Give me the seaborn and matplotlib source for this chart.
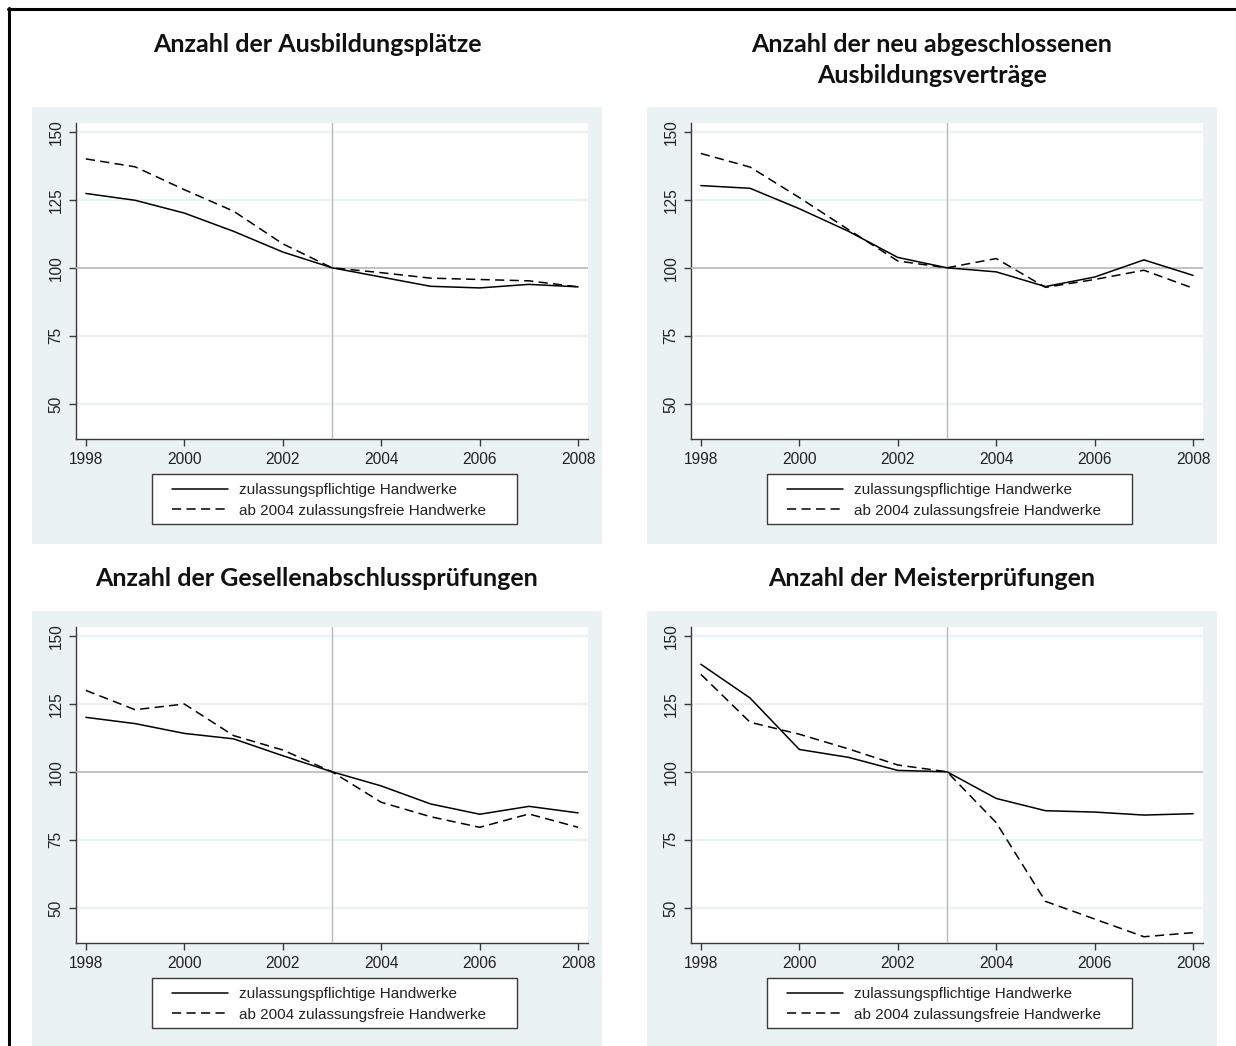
import matplotlib
matplotlib.use('Agg')
import matplotlib.pyplot as plt
import seaborn as sns
from matplotlib.patches import Rectangle
from matplotlib.lines import Line2D

# Werte (Index 2003 = 100)
years = [1998, 1999, 2000, 2001, 2002, 2003, 2004, 2005, 2006, 2007, 2008]

plaetze_pflicht = [127.3, 124.8, 120.1, 113.4, 105.8, 100.0, 96.6, 93.2, 92.6, 93.9, 93.0]
plaetze_frei = [140.0, 137.1, 128.7, 120.8, 108.8, 100.0, 98.2, 96.2, 95.7, 95.2, 93.0]

vertraege_pflicht = [130.2, 129.2, 121.7, 113.4, 103.8, 100.0, 98.5, 93.1, 96.6, 102.9, 97.2]
vertraege_frei = [142.0, 137.0, 125.8, 114.0, 102.5, 100.0, 103.4, 92.8, 95.7, 99.1, 92.5]

gesellen_pflicht = [120.0, 117.7, 114.1, 112.1, 105.9, 100.0, 94.8, 88.2, 84.4, 87.3, 84.9]
gesellen_frei = [129.9, 122.8, 124.9, 113.3, 108.0, 100.0, 88.8, 83.5, 79.6, 84.5, 79.6]

meister_pflicht = [139.5, 127.1, 108.2, 105.3, 100.5, 100.0, 90.2, 85.7, 85.2, 84.1, 84.6]
meister_frei = [135.8, 118.2, 113.8, 108.4, 102.5, 100.0, 81.3, 52.4, 45.9, 39.4, 40.9]

titles = [
    'Anzahl der Ausbildungsplätze',
    'Anzahl der neu abgeschlossenen\nAusbildungsverträge',
    'Anzahl der Gesellenabschlussprüfungen',
    'Anzahl der Meisterprüfungen',
]
labels = ['zulassungspflichtige Handwerke', 'ab 2004 zulassungsfreie Handwerke']
y_ticks = [50, 75, 100, 125, 150]
x_ticks = [1998, 2000, 2002, 2004, 2006, 2008]

series = [
    (plaetze_pflicht, plaetze_frei),
    (vertraege_pflicht, vertraege_frei),
    (gesellen_pflicht, gesellen_frei),
    (meister_pflicht, meister_frei),
]

sns.set_theme(style='white')
plt.rcParams['font.family'] = ['Liberation Sans', 'DejaVu Sans']

W, H = 1236, 1046
fig = plt.figure(figsize=(W / 100, H / 100), dpi=100)
fig.patch.set_facecolor('white')

def fx(x):
    return x / W

def fy(y):
    return 1 - y / H

bg_col = '#eaf2f3'
ref_col = '#b8b8b8'
spine_col = '#3a3a3a'

# outer frame (top + left)
fig.add_artist(Line2D([fx(8), fx(1236)], [fy(8.5), fy(8.5)], color='black', lw=2.2))
fig.add_artist(Line2D([fx(8.5), fx(8.5)], [fy(8), fy(1046)], color='black', lw=2.2))

offsets = [(0, 0), (615, 0), (0, 504), (615, 504)]
title_y = [44, 60, 578, 578]

for i, (dx, dy) in enumerate(offsets):
    # panel background
    bottom = 544 + dy if dy == 0 else 1046
    fig.add_artist(Rectangle((fx(32 + dx), fy(bottom)), 570 / W, (bottom - 107 - dy) / H,
                             transform=fig.transFigure, facecolor=bg_col, edgecolor='none', zorder=0))

    ax = fig.add_axes([fx(76 + dx), fy(439 + dy), 512 / W, 316.3 / H])
    ax.set_facecolor('white')

    solid, dashed = series[i]
    sns.lineplot(x=years, y=solid, ax=ax, color='black', lw=1.1, label=labels[0], zorder=4)
    sns.lineplot(x=years, y=dashed, ax=ax, color='black', lw=1.1, linestyle=(0, (6, 3.5)),
                 label=labels[1], zorder=4)

    ax.axhline(100, color=ref_col, lw=1.2, zorder=3)
    ax.axvline(2003, color=ref_col, lw=1.0, zorder=3)
    for yt in y_ticks:
        if yt != 100:
            ax.axhline(yt, color=bg_col, lw=1.6, zorder=1)

    ax.set_xlim(1997.8, 2008.2)
    ax.set_ylim(37.1, 153.3)
    ax.set_xticks(x_ticks)
    ax.set_yticks(y_ticks)
    ax.set_yticklabels([str(v) for v in y_ticks], rotation=90, va='center')
    ax.tick_params(axis='both', which='both', direction='out', length=5, width=1,
                   color=spine_col, labelsize=11.2, labelcolor='#222222', pad=4,
                   bottom=True, left=True)
    for s in ['top', 'right']:
        ax.spines[s].set_visible(False)
    for s in ['left', 'bottom']:
        ax.spines[s].set_color(spine_col)
        ax.spines[s].set_linewidth(1)
    ax.set_xlabel('')
    ax.set_ylabel('')
    ax.grid(False)

    # legend with a separate box
    handles, labs = ax.get_legend_handles_labels()
    ax.legend_.remove()
    fig.add_artist(Rectangle((fx(152 + dx), fy(524 + dy)), 365 / W, 50 / H,
                             transform=fig.transFigure, facecolor='white',
                             edgecolor=spine_col, lw=1.0, zorder=2))
    leg = fig.legend(handles, labs, loc='center left',
                     bbox_to_anchor=(fx(172 + dx), fy(500.5 + dy)),
                     frameon=False, fontsize=11, handlelength=3.66,
                     handletextpad=0.72, labelspacing=0.42, borderpad=0,
                     borderaxespad=0)
    leg.set_zorder(5)
    for t in leg.get_texts():
        t.set_color('#222222')

    fig.text(fx(317 + dx), fy(title_y[i]), titles[i], ha='center', va='center',
             fontsize=18, fontweight='bold', family=['Lato', 'DejaVu Sans'],
             linespacing=1.42, color='#111111')

fig.savefig('out.png', dpi=100)
